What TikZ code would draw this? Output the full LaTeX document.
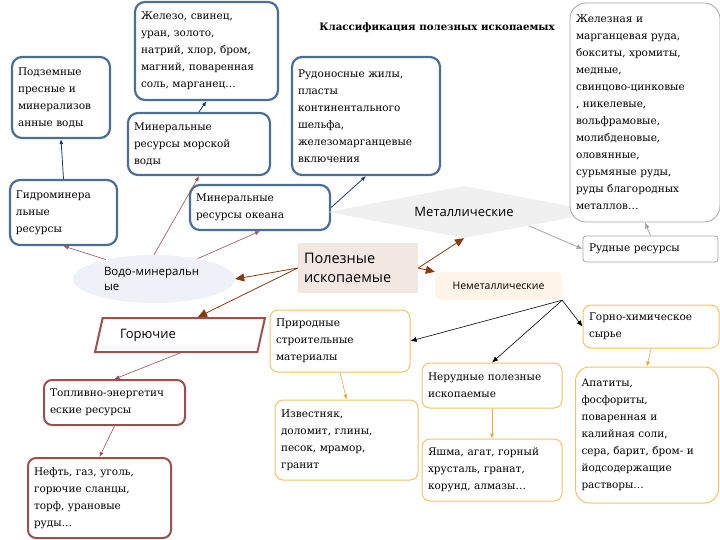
\documentclass[tikz,border=0pt]{standalone}
\usepackage{fontspec}
\setmainfont{DejaVu Serif}
\setsansfont{Open Sans}
\usepackage{tikz}
\usetikzlibrary{arrows.meta,positioning,shapes.geometric}
\definecolor{steel}{HTML}{4A6E94}
\definecolor{navy}{HTML}{1F3864}
\definecolor{rust}{HTML}{9C4F4F}
\definecolor{brown}{HTML}{843C0C}
\definecolor{gold}{HTML}{EFC36A}
\definecolor{orange}{HTML}{F2A33A}
\definecolor{greyline}{HTML}{A6A6A6}
\definecolor{metalfill}{HTML}{F0F0F0}
\definecolor{corepale}{HTML}{F2E7E1}
\definecolor{waterpale}{HTML}{EEF2F8}
\definecolor{nonmetpale}{HTML}{FEF4E8}
\newcommand\boxfont{\fontsize{10.5}{17}\selectfont}

\begin{document}
\begin{tikzpicture}[x=1pt,y=-1pt,>=Latex,
  box/.style={rounded corners=8pt,align=left,inner xsep=6pt,inner ysep=2pt,font=\boxfont},
  bluebox/.style={box,draw=steel,line width=2.2pt,rounded corners=10pt},
  rustbox/.style={box,draw=rust,line width=2pt},
  goldbox/.style={box,draw=gold,line width=1pt},
  greybox/.style={box,draw=greyline,line width=0.8pt},
  navyarrow/.style={->,color=navy,line width=0.8pt,-{Latex[length=5pt,width=4pt]}},
  rustarrow/.style={color=rust,line width=0.6pt,-{Latex[length=5pt,width=4pt]}},
  brownarrow/.style={color=brown,line width=0.8pt,-{Triangle[length=9pt,width=8pt]}},
  blackarrow/.style={color=black,line width=0.6pt,-{Latex[length=6pt,width=5pt]}},
  goldarrow/.style={color=orange,line width=0.6pt,-{Latex[length=5pt,width=4pt]}},
  greyarrow/.style={color=greyline,line width=0.8pt,-{Latex[length=6pt,width=5pt]}}]
  \useasboundingbox (0,0) rectangle (720,540);
  \node[font=\bfseries\fontsize{10.2}{12}\selectfont] (title) at (437,28) {Классификация полезных ископаемых};

  % water branch
  \node[bluebox,text width=86pt,minimum height=81pt] (podz) at (61,97.5) {Подземные\\пресные и\\минерализов\\анные воды};
  \node[bluebox,text width=131pt,minimum height=98pt] (zhelezo) at (206.5,51) {Железо, свинец,\\уран, золото,\\натрий, хлор, бром,\\магний, поваренная\\соль, марганец…};
  \node[bluebox,text width=130pt,minimum height=62pt] (morsk) at (199,144) {Минеральные\\ресурсы морской\\воды};
  \node[bluebox,text width=136pt,minimum height=118pt] (rudon) at (366,116) {Рудоносные жилы,\\пласты\\континентального\\шельфа,\\железомарганцевые\\включения};
  \node[bluebox,text width=95pt,minimum height=65pt] (gidro) at (63.5,212.5) {Гидроминера\\льные\\ресурсы};
  \node[bluebox,text width=128pt,minimum height=45pt] (okean) at (260,207.5) {Минеральные\\ресурсы океана};
  \node[ellipse,fill=waterpale,minimum width=162pt,minimum height=48pt,text width=100pt,align=left,
    font=\sffamily\fontsize{11.5}{15}\selectfont] (vodo) at (154,279) {Водо-минеральн\\ые};

  % metallic branch
  \node[diamond,aspect=5.2,fill=metalfill,minimum width=272pt,minimum height=52pt,inner sep=0pt,
    font=\sffamily\fontsize{13}{15}\selectfont] (metall) at (464,212) {Металлические};
  \node[greybox,fill=white,rounded corners=16pt,text width=138pt,minimum height=219pt] (rudlist) at (645,112.5) {Железная и\\марганцевая руда,\\бокситы, хромиты,\\медные,\\свинцово-цинковые\\, никелевые,\\вольфрамовые,\\молибденовые,\\оловянные,\\сурьмяные руды,\\руды благородных\\металлов…};
  \node[greybox,rounded corners=3pt,text width=123pt,minimum height=26pt] (rudres) at (650.5,249) {Рудные ресурсы};

  % centre
  \node[fill=corepale,text width=108pt,minimum height=50pt,align=left,inner xsep=6pt,
    font=\sffamily\fontsize{14.5}{19}\selectfont] (polez) at (358,268) {Полезные\\ископаемые};

  % fuel branch
  \node[trapezium,trapezium left angle=72,trapezium right angle=108,trapezium stretches=true,
    draw=rust,line width=2pt,minimum width=170pt,minimum height=34pt,text width=120pt,align=left,
    font=\sffamily\fontsize{13}{15}\selectfont] (goruch) at (180,335) {Горючие};
  \node[rustbox,text width=129pt,minimum height=45pt] (toplivo) at (114.5,402.5) {Топливно-энергетич\\еские ресурсы};
  \node[rustbox,text width=131pt,minimum height=80pt] (neft) at (99.5,498) {Нефть, газ, уголь,\\горючие сланцы,\\торф, урановые\\руды…};

  % non-metallic branch
  \node[fill=nonmetpale,rounded corners=6pt,minimum width=127pt,minimum height=28pt,
    font=\sffamily\fontsize{10.5}{13}\selectfont] (nemet) at (498.5,286) {Неметаллические};
  \node[goldbox,text width=128pt,minimum height=62pt] (prirod) at (340,341) {Природные\\строительные\\материалы};
  \node[goldbox,text width=131pt,minimum height=80pt] (izvest) at (346.5,440) {Известняк,\\доломит, глины,\\песок, мрамор,\\гранит};
  \node[goldbox,text width=128pt,minimum height=45pt] (nerud) at (492,385.5) {Нерудные полезные\\ископаемые};
  \node[goldbox,text width=128pt,minimum height=62pt] (yashma) at (492,470) {Яшма, агат, горный\\хрусталь, гранат,\\корунд, алмазы…};
  \node[goldbox,text width=124pt,minimum height=43pt] (gorno) at (651,326.5) {Горно-химическое\\сырье};
  \node[goldbox,rounded corners=14pt,text width=131pt,minimum height=136pt] (apatit) at (647,435) {Апатиты,\\фосфориты,\\поваренная и\\калийная соли,\\сера, барит, бром- и\\йодсодержащие\\растворы…};

  \draw[navyarrow] (gidro.north)--(podz.south);
  \draw[navyarrow] (morsk.north)--(zhelezo.south);
  \draw[navyarrow] (okean.east)--(rudon.south);
  \draw[rustarrow] (vodo.158)--(gidro.south);
  \draw[rustarrow] (vodo.north)--(morsk.south);
  \draw[rustarrow] (vodo.25)--(okean.south);
  \draw[brownarrow] (polez.west)--(vodo.east);
  \draw[brownarrow] (polez.west)--(goruch.45);
  \draw[brownarrow] (polez.east)--(metall.south);
  \draw[brownarrow] (polez.east)--(nemet.north west);
  \draw[greyarrow] (metall.-12)--(rudres.west);
  \draw[greyarrow] (rudres.north)--(rudlist.south);
  \draw[rustarrow] (goruch.south)--(toplivo.north);
  \draw[rustarrow] (toplivo.south)--(neft.north);
  \draw[blackarrow] (nemet.south east)--(prirod.east);
  \draw[blackarrow] (nemet.south east)--(nerud.north);
  \draw[blackarrow] (nemet.south east)--(gorno.west);
  \draw[goldarrow] (prirod.south)--(izvest.north);
  \draw[goldarrow] (nerud.south)--(yashma.north);
  \draw[goldarrow] (gorno.south)--(apatit.north);
\end{tikzpicture}
\end{document}
